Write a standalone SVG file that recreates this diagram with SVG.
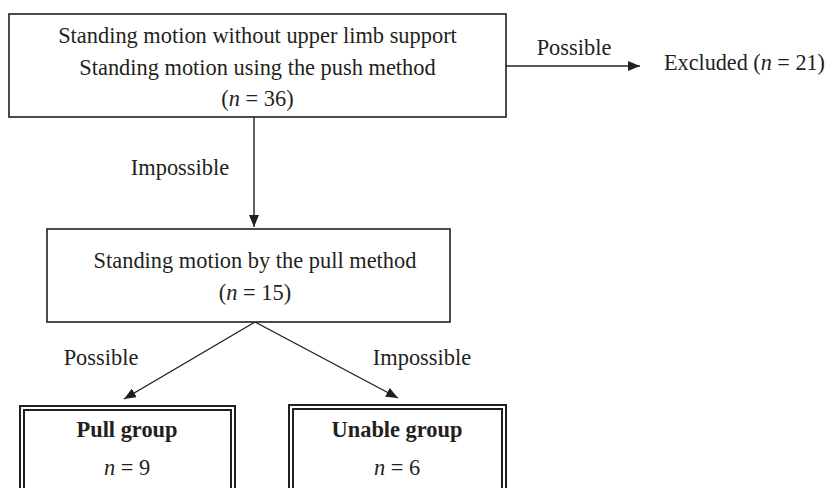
<svg xmlns="http://www.w3.org/2000/svg" width="829" height="488" viewBox="0 0 829 488">
<style>
  text { font-family: "Liberation Serif", "Times New Roman", serif; font-size: 22.4px; fill: #231f20; }
  .c { text-anchor: middle; }
  .b { font-weight: bold; }
  .i { font-style: italic; }
  .box { fill: #fff; stroke: #231f20; stroke-width: 1.6; }
  .dbl { fill: none; stroke: #231f20; stroke-width: 2; }
  .conn line { stroke: #231f20; stroke-width: 1.4; fill: none; }
</style>
<defs>
  <marker id="arr" viewBox="0 0 12 10" refX="12" refY="5" markerWidth="12" markerHeight="10" markerUnits="userSpaceOnUse" orient="auto">
    <path d="M0,0 L12,5 L0,10 Z" fill="#231f20"/>
  </marker>
</defs>
<rect width="829" height="488" fill="#fff"/>

<g id="connectors" class="conn">
  <line x1="506" y1="66" x2="640" y2="66" marker-end="url(#arr)"/>
  <line x1="254" y1="117" x2="254" y2="227" marker-end="url(#arr)"/>
  <line x1="255" y1="322" x2="124" y2="399" marker-end="url(#arr)"/>
  <line x1="255" y1="322" x2="398" y2="398" marker-end="url(#arr)"/>
</g>

<g id="labels">
  <text x="574" y="55" class="c">Possible</text>
  <text x="180" y="175" class="c">Impossible</text>
  <text x="101" y="365" class="c">Possible</text>
  <text x="422" y="365" class="c">Impossible</text>
</g>

<g id="node-start">
  <rect class="box" x="9" y="14" width="497" height="103"/>
  <text x="257.5" y="43" class="c">Standing motion without upper limb support</text>
  <text x="257.5" y="75" class="c">Standing motion using the push method</text>
  <text x="257.5" y="106" class="c">(<tspan class="i">n</tspan> = 36)</text>
</g>

<g id="node-excluded">
  <text x="664" y="70" textLength="161" lengthAdjust="spacingAndGlyphs">Excluded (<tspan class="i">n</tspan> = 21)</text>
</g>

<g id="node-pull-method">
  <rect class="box" x="47" y="229" width="403" height="93"/>
  <text x="255" y="268" class="c">Standing motion by the pull method</text>
  <text x="255" y="300" class="c">(<tspan class="i">n</tspan> = 15)</text>
</g>

<g id="node-pull-group">
  <rect class="dbl" x="20" y="406" width="215" height="100"/>
  <rect class="dbl" x="24" y="410" width="207" height="100"/>
  <text x="127" y="437" class="c b">Pull group</text>
  <text x="127" y="475" class="c"><tspan class="i">n</tspan> = 9</text>
</g>

<g id="node-unable-group">
  <rect class="dbl" x="289" y="405" width="217" height="100"/>
  <rect class="dbl" x="293" y="409" width="209" height="100"/>
  <text x="397" y="437" class="c b">Unable group</text>
  <text x="397" y="475" class="c"><tspan class="i">n</tspan> = 6</text>
</g>
</svg>
